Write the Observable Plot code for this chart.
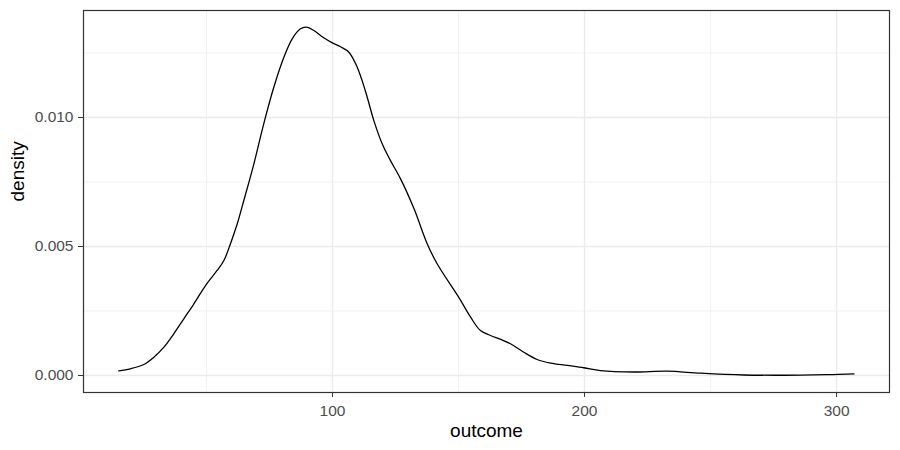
<!DOCTYPE html>
<html>
<head>
<meta charset="utf-8">
<script src="https://cdn.jsdelivr.net/npm/d3@7"></script>
<script src="https://cdn.jsdelivr.net/npm/@observablehq/plot@0.6"></script>
<style>
  html, body { margin: 0; padding: 0; background: #fff; }
  #chart svg { display: block; }
</style>
</head>
<body>
<div id="chart"></div>
<script>
// Density curve (outcome, density)
const outcome = [15.2, 19.8, 25.1, 29.1, 33.1, 37.0, 41.0, 45.0, 49.6, 54.2, 56.9, 59.5, 62.2, 64.8, 68.8, 72.7, 76.7, 80.7, 84.0, 87.3, 89.7, 92.6, 96.5, 99.9, 103.2, 106.5, 109.8, 113.1, 116.4, 119.7, 123.0, 127.0, 132.3, 137.6, 141.5, 150.1, 154.8, 158.7, 162.7, 166.7, 170.6, 175.9, 181.2, 186.5, 193.1, 199.7, 206.3, 219.6, 232.8, 246.0, 263.2, 279.1, 296.3, 306.9];
const density = [0.000182, 0.00026, 0.000426, 0.000709, 0.001097, 0.001616, 0.002198, 0.002779, 0.003488, 0.00407, 0.004457, 0.005105, 0.00588, 0.006783, 0.008205, 0.009756, 0.011174, 0.012337, 0.01305, 0.013438, 0.0135, 0.013372, 0.013089, 0.012895, 0.01274, 0.012531, 0.01195, 0.01101, 0.00988, 0.00898, 0.00833, 0.00762, 0.00647, 0.0051, 0.00433, 0.00303, 0.00226, 0.00174, 0.00155, 0.0014, 0.00123, 0.0009, 0.00062, 0.00048, 0.00039, 0.0003, 0.00019, 0.000136, 0.000167, 0.000089, 0.00002, 0.00001, 0.00003, 0.00006];

const xMajor = [100, 200, 300];
const xMinor = [50, 150, 250];
const yMajor = [0, 0.005, 0.010];
const yMinor = [0.0025, 0.0075, 0.0125];
const xTitle = "outcome";
const yTitle = "density";

const data = outcome.map((x, i) => ({x, y: density[i]}));

const font = "'Liberation Sans', Arial, Helvetica, sans-serif";
const grid = "#EBEBEB";

const chart = Plot.plot({
  width: 900,
  height: 450,
  marginLeft: 83,
  marginRight: 11,
  marginTop: 10,
  marginBottom: 58,
  style: {fontFamily: font, background: "#fff"},
  x: {domain: [1.19, 321.0], label: null},
  y: {domain: [-0.000659, 0.014147], label: null},
  marks: [
    Plot.gridX(xMinor, {stroke: grid, strokeOpacity: 1, strokeWidth: 0.7}),
    Plot.gridY(yMinor, {stroke: grid, strokeOpacity: 1, strokeWidth: 0.7}),
    Plot.gridX(xMajor, {stroke: grid, strokeOpacity: 1, strokeWidth: 1.4}),
    Plot.gridY(yMajor, {stroke: grid, strokeOpacity: 1, strokeWidth: 1.4}),
    Plot.line(data, {x: "x", y: "y", stroke: "#000", strokeWidth: 1.3, curve: "catmull-rom"}),
    Plot.frame({stroke: "#333333", strokeWidth: 1.2}),
    Plot.axisX(xMajor, {tickSize: 5, tickPadding: 7, fontSize: 15.5, stroke: "#333333", fill: "#4D4D4D", label: null}),
    Plot.axisY(yMajor, {tickSize: 5, tickPadding: 5, fontSize: 15.5, stroke: "#333333", fill: "#4D4D4D", tickFormat: d3.format(".3f"), label: null}),
    Plot.text([xTitle], {frameAnchor: "bottom", dy: 38, lineAnchor: "middle", fontSize: 19, fill: "#000", text: d => d}),
    Plot.text([yTitle], {frameAnchor: "left", dx: -66, rotate: -90, lineAnchor: "middle", fontSize: 19, fill: "#000", text: d => d})
  ]
});
document.getElementById("chart").appendChild(chart);
</script>
</body>
</html>
